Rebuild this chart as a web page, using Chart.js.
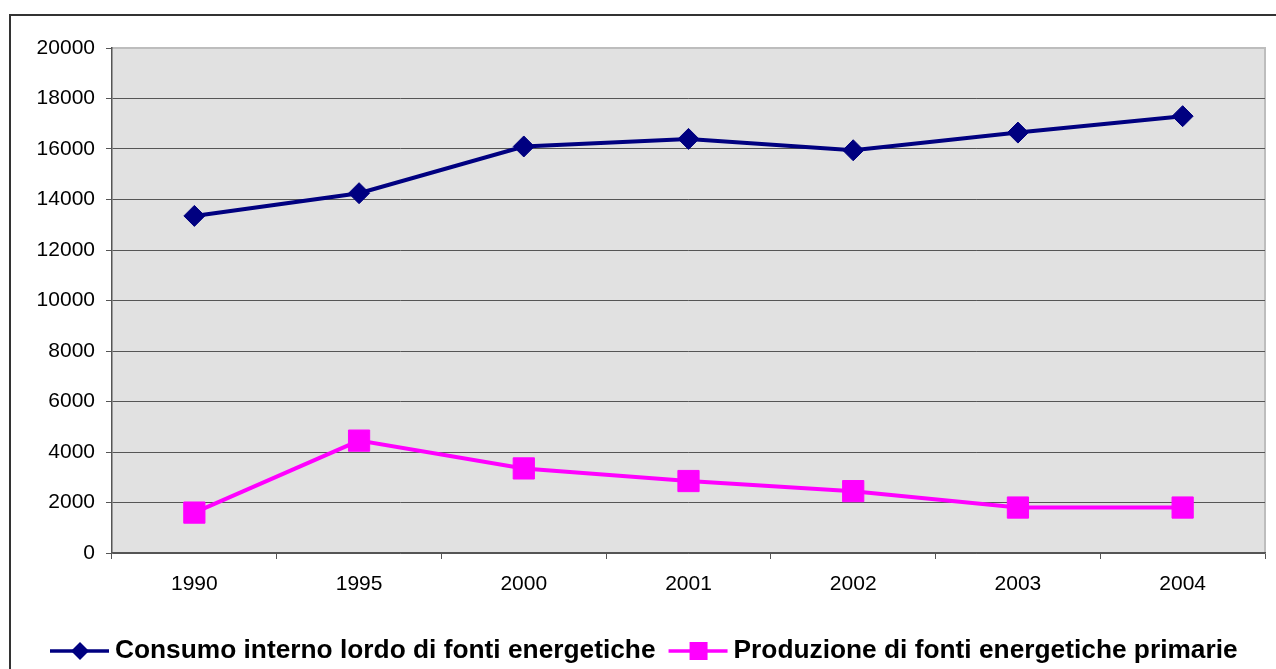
<!DOCTYPE html>
<html>
<head>
<meta charset="utf-8">
<script src="https://cdn.jsdelivr.net/npm/chart.js@4/dist/chart.umd.min.js"></script>
<style>
  body { margin: 0; background: #ffffff; }
  #energyChart { display: block; }
</style>
</head>
<body>
<canvas id="energyChart" width="1276" height="669"></canvas>
<script>
// Data
const years = ['1990', '1995', '2000', '2001', '2002', '2003', '2004'];
const consumoLordo = [13350, 14250, 16100, 16400, 15950, 16650, 17300];
const produzionePrimaria = [1600, 4450, 3350, 2850, 2450, 1800, 1800];
const seriesNames = ['Consumo interno lordo di fonti energetiche', 'Produzione di fonti energetiche primarie'];
const yMin = 0, yMax = 20000, yStep = 2000;

const FONT = '"Liberation Sans", Arial, sans-serif';

// Frame, grey plot background and its light border
const backgroundPlugin = {
    id: 'background',
    beforeDraw(chart) {
        const ctx = chart.ctx;
        const a = chart.chartArea;
        ctx.save();
        ctx.fillStyle = '#ffffff';
        ctx.fillRect(0, 0, chart.width, chart.height);
        // outer frame (runs off the right and bottom edges)
        ctx.strokeStyle = '#333333';
        ctx.lineWidth = 2;
        ctx.strokeRect(10, 15, chart.width + 20, chart.height + 20);
        // plot area
        ctx.fillStyle = '#e1e1e1';
        ctx.fillRect(a.left, a.top, a.right - a.left, a.bottom - a.top);
        ctx.strokeStyle = '#bdbdbd';
        ctx.lineWidth = 2;
        ctx.beginPath();
        ctx.moveTo(a.left, a.top);
        ctx.lineTo(a.right, a.top);
        ctx.lineTo(a.right, a.bottom);
        ctx.stroke();
        ctx.restore();
    }
};

// Legend drawn as line + marker + bold text, like the original
const legendPlugin = {
    id: 'lineLegend',
    afterDraw(chart) {
        const ctx = chart.ctx;
        const y = 651;
        let x = 50;
        ctx.save();
        ctx.font = 'bold 26.3px ' + FONT;
        ctx.textBaseline = 'alphabetic';
        chart.data.datasets.forEach(function(ds) {
            ctx.strokeStyle = ds.borderColor;
            ctx.lineWidth = 3.5;
            ctx.beginPath();
            ctx.moveTo(x, y);
            ctx.lineTo(x + 59, y);
            ctx.stroke();
            ctx.fillStyle = ds.borderColor;
            const cx = x + 30;
            if (ds.pointStyle === 'rectRot') {
                ctx.beginPath();
                ctx.moveTo(cx - 9, y);
                ctx.lineTo(cx, y - 9);
                ctx.lineTo(cx + 9, y);
                ctx.lineTo(cx, y + 9);
                ctx.closePath();
                ctx.fill();
            } else {
                ctx.fillRect(cx - 9, y - 9, 18, 18);
            }
            ctx.fillStyle = '#000000';
            ctx.fillText(ds.label, x + 65, 658);
            x += 65 + ctx.measureText(ds.label).width + 13;
        });
        ctx.restore();
    }
};

const ctx = document.getElementById('energyChart').getContext('2d');
const energyChart = new Chart(ctx, {
    type: 'line',
    data: {
        labels: years,
        datasets: [
            {
                label: seriesNames[0],
                data: consumoLordo,
                borderColor: '#000080',
                backgroundColor: '#000080',
                borderWidth: 4,
                pointStyle: 'rectRot',
                pointRadius: 10.5,
                pointBorderWidth: 1,
                pointBackgroundColor: '#000080',
                pointBorderColor: '#000080',
                tension: 0
            },
            {
                label: seriesNames[1],
                data: produzionePrimaria,
                borderColor: '#ff00ff',
                backgroundColor: '#ff00ff',
                borderWidth: 4,
                pointStyle: 'rect',
                pointRadius: 15,
                pointBorderWidth: 1,
                pointBackgroundColor: '#ff00ff',
                pointBorderColor: '#ff00ff',
                tension: 0
            }
        ]
    },
    options: {
        responsive: false,
        animation: false,
        layout: { autoPadding: false, padding: { top: 48, right: 11, bottom: 66, left: 0 } },
        plugins: {
            legend: { display: false },
            tooltip: { enabled: false }
        },
        scales: {
            x: {
                offset: true,
                grid: {
                    offset: true,
                    drawOnChartArea: false,
                    tickLength: 6,
                    color: '#555555'
                },
                border: { color: '#555555', width: 1.5 },
                ticks: {
                    color: '#000000',
                    font: { family: FONT, size: 21 },
                    padding: 13,
                    maxRotation: 0
                },
                afterFit(scale) { scale.height = 50; }
            },
            y: {
                min: yMin,
                max: yMax,
                grid: {
                    color(c) { return c.tick && c.tick.value === yMax ? 'rgba(0,0,0,0)' : '#555555'; },
                    tickColor: '#555555',
                    tickLength: 6,
                    lineWidth: 1
                },
                border: { color: '#555555', width: 1.5 },
                ticks: {
                    stepSize: yStep,
                    color: '#000000',
                    font: { family: FONT, size: 21 },
                    padding: 11,
                    callback(v) { return String(v); }
                },
                afterFit(scale) { scale.width = 112; }
            }
        }
    },
    plugins: [backgroundPlugin, legendPlugin]
});
</script>
</body>
</html>
